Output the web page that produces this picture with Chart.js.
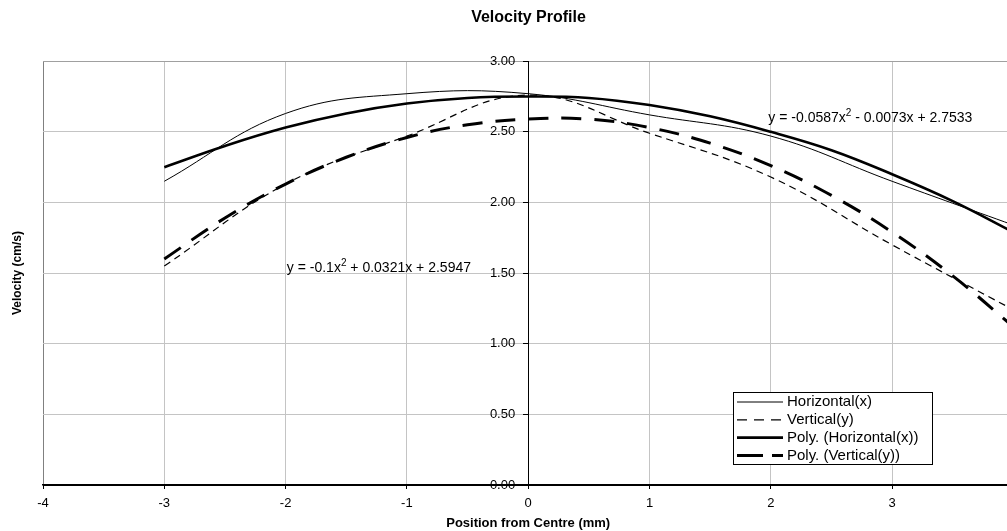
<!DOCTYPE html>
<html>
<head>
<meta charset="utf-8">
<title>Velocity Profile</title>
<script src="https://cdn.jsdelivr.net/npm/chart.js@4.4.0/dist/chart.umd.min.js"></script>
<style>
  html, body { margin: 0; padding: 0; background: #fff; overflow: hidden; }
  #wrap { position: relative; width: 1024px; height: 531px; }
</style>
</head>
<body>
<div id="wrap"><canvas id="chart"></canvas></div>
<script>
// Valores (mm, cm/s)
const positions = [-3, -2, -1, 0, 1, 2, 3, 4];
const horizontalX = [2.15, 2.63, 2.77, 2.77, 2.62, 2.47, 2.15, 1.84];
const verticalY = [1.55, 2.13, 2.47, 2.76, 2.49, 2.18, 1.70, 1.24];

const trendPositions = [-3, -2.5, -2, -1.5, -1, -0.5, 0, 0.5, 1, 1.5, 2, 2.5, 3, 3.5, 4];
const polyHorizontal = [2.25, 2.40, 2.53, 2.63, 2.70, 2.74, 2.75, 2.74, 2.69, 2.61, 2.50, 2.37, 2.20, 2.01, 1.79];
const polyVertical = [1.60, 1.89, 2.13, 2.32, 2.46, 2.55, 2.59, 2.59, 2.53, 2.42, 2.26, 2.05, 1.79, 1.48, 1.12];

const xTicks = [-4, -3, -2, -1, 0, 1, 2, 3, 4];
const yTicks = [0, 0.5, 1, 1.5, 2, 2.5, 3];

const FONT = "'Liberation Sans', Arial, sans-serif";
const pairs = (xs, ys) => xs.map((x, i) => ({ x, y: ys[i] }));

// Ecuación con exponente
function drawEquation(ctx, x, y, pre, sup, post) {
  ctx.fillStyle = '#000';
  ctx.textBaseline = 'middle';
  ctx.textAlign = 'left';
  ctx.font = `14px ${FONT}`;
  ctx.fillText(pre, x, y);
  let w = ctx.measureText(pre).width;
  ctx.font = `10px ${FONT}`;
  ctx.fillText(sup, x + w, y - 5);
  w += ctx.measureText(sup).width;
  ctx.font = `14px ${FONT}`;
  ctx.fillText(post, x + w, y);
}

const extras = {
  id: 'extras',
  beforeDatasetsDraw(chart) {
    // etiquetas del eje Y, a la izquierda del eje centrado
    const { ctx, scales: { x, y } } = chart;
    const ax = x.getPixelForValue(0);
    ctx.save();
    ctx.fillStyle = '#000';
    ctx.font = `13px ${FONT}`;
    ctx.textAlign = 'right';
    ctx.textBaseline = 'middle';
    y.ticks.forEach(t => ctx.fillText(t.value.toFixed(2), ax - 13, y.getPixelForValue(t.value)));
    ctx.restore();
  },
  afterDatasetsDraw(chart) {
    const { ctx, scales: { x, y }, chartArea } = chart;
    ctx.save();

    // ecuaciones de tendencia
    drawEquation(ctx, x.getPixelForValue(1.98), y.getPixelForValue(2.597),
      'y = -0.0587x', '2', ' - 0.0073x + 2.7533');
    drawEquation(ctx, x.getPixelForValue(-1.99), y.getPixelForValue(1.535),
      'y = -0.1x', '2', ' + 0.0321x + 2.5947');

    // leyenda dentro del área
    const bx = 733, by = 392, bw = 199, bh = 72;
    ctx.fillStyle = '#fff';
    ctx.fillRect(bx, by, bw, bh);
    ctx.strokeStyle = '#000';
    ctx.lineWidth = 1;
    ctx.setLineDash([]);
    ctx.strokeRect(bx + 0.5, by + 0.5, bw, bh);
    ctx.font = `15px ${FONT}`;
    ctx.textBaseline = 'middle';
    ctx.textAlign = 'left';
    chart.data.datasets.forEach((ds, i) => {
      const ry = by + 10 + i * 17.8;
      ctx.beginPath();
      ctx.setLineDash(ds.legendDash || []);
      ctx.lineWidth = ds.borderWidth;
      ctx.strokeStyle = '#000';
      ctx.moveTo(bx + 4, ry);
      ctx.lineTo(bx + 50, ry);
      ctx.stroke();
      ctx.setLineDash([]);
      ctx.fillStyle = '#000';
      ctx.fillText(ds.label, bx + 54, ry);
    });

    // título del eje Y (el eje está centrado en x = 0)
    ctx.translate(18, (chartArea.top + chartArea.bottom) / 2);
    ctx.rotate(-Math.PI / 2);
    ctx.font = `bold 12px ${FONT}`;
    ctx.textAlign = 'center';
    ctx.fillText('Velocity (cm/s)', 0, 0);
    ctx.restore();
  }
};

const gridColor = '#c4c4c4';

new Chart(document.getElementById('chart'), {
  type: 'line',
  data: {
    datasets: [
      {
        label: 'Horizontal(x)',
        data: pairs(positions, horizontalX),
        borderColor: '#000', borderWidth: 1, tension: 0.4, pointRadius: 0
      },
      {
        label: 'Vertical(y)',
        data: pairs(positions, verticalY),
        borderColor: '#000', borderWidth: 1.2, borderDash: [7, 5], legendDash: [10, 7],
        tension: 0.4, pointRadius: 0
      },
      {
        label: 'Poly. (Horizontal(x))',
        data: pairs(trendPositions, polyHorizontal),
        borderColor: '#000', borderWidth: 2.6, tension: 0.4, pointRadius: 0
      },
      {
        label: 'Poly. (Vertical(y))',
        data: pairs(trendPositions, polyVertical),
        borderColor: '#000', borderWidth: 3, borderDash: [20, 13], legendDash: [26, 9],
        tension: 0.4, pointRadius: 0
      }
    ]
  },
  options: {
    responsive: true,
    maintainAspectRatio: false,
    animation: false,
    devicePixelRatio: 1,
    layout: { padding: { left: 43, right: 10, top: 0, bottom: 0 } },
    plugins: {
      legend: { display: false },
      tooltip: { enabled: false },
      title: {
        display: true,
        text: 'Velocity Profile',
        color: '#000',
        font: { family: FONT, size: 16, weight: 'bold' },
        padding: { top: 8, bottom: 34 }
      }
    },
    scales: {
      x: {
        type: 'linear', min: -4, max: 4,
        afterBuildTicks: s => { s.ticks = xTicks.map(v => ({ value: v })); },
        afterFit: s => { s.height = 46; },
        grid: {
          color: c => c.tick && c.tick.value === -4 ? '#808080' : (c.tick && c.tick.value === 0 ? '#000' : gridColor),
          tickLength: 4, tickColor: '#000'
        },
        border: { color: '#000', width: 1.5 },
        ticks: { color: '#000', font: { family: FONT, size: 13 }, padding: 7, maxRotation: 0 },
        title: {
          display: true, text: 'Position from Centre (mm)', color: '#000',
          font: { family: FONT, size: 13, weight: 'bold' }, padding: { top: 0, bottom: 0 }
        }
      },
      y: {
        type: 'linear', min: 0, max: 3, position: { x: 0 },
        afterBuildTicks: s => { s.ticks = yTicks.map(v => ({ value: v })); },
        grid: {
          color: c => c.tick && c.tick.value === 0 ? '#000' : (c.tick && c.tick.value === 3 ? '#a0a0a0' : gridColor),
          tickLength: 5, tickColor: '#000'
        },
        border: { color: '#000', width: 1 },
        ticks: { display: false }
      }
    }
  },
  plugins: [extras]
});
</script>
</body>
</html>
